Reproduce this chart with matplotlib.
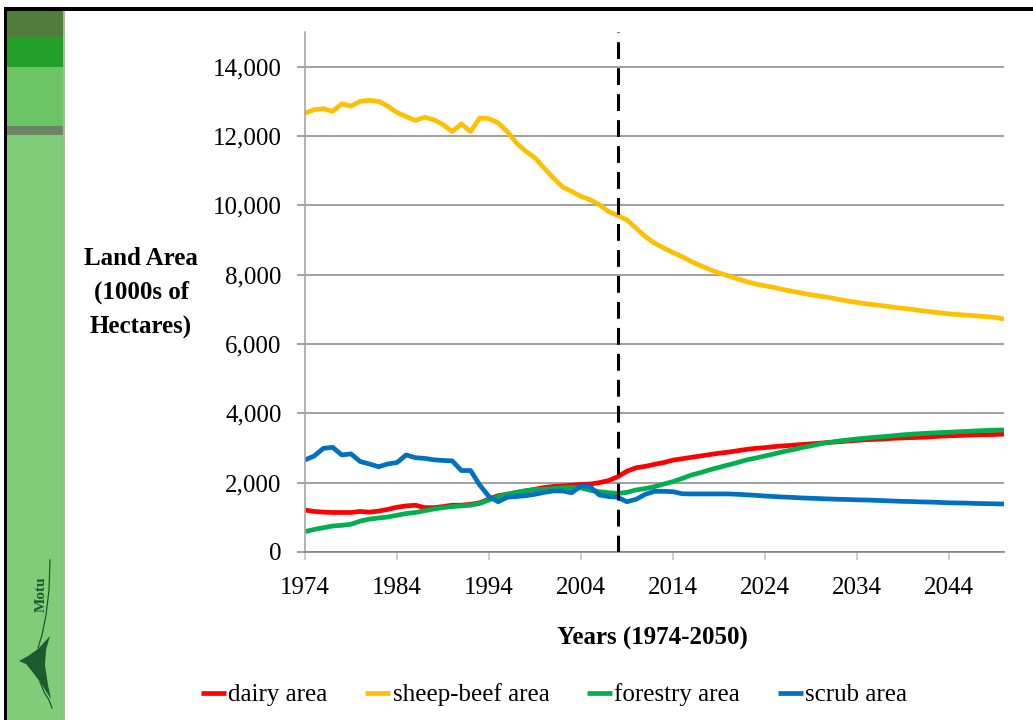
import matplotlib
matplotlib.use("Agg")
import matplotlib.pyplot as plt
from matplotlib.patches import Rectangle, Polygon
from matplotlib.ticker import FuncFormatter, FixedLocator

plt.rcParams['font.family'] = ['Liberation Serif', 'DejaVu Serif']

years = list(range(1974, 2051))

dairy = [1210, 1170, 1150, 1140, 1140, 1140, 1170, 1150, 1180, 1230,
         1290, 1330, 1350, 1280, 1280, 1310, 1350, 1350, 1375, 1420,
         1530, 1625, 1665, 1720, 1760, 1810, 1860, 1890, 1905, 1925,
         1950, 1960, 2000, 2060, 2170, 2330, 2430, 2470, 2530, 2580,
         2650, 2690, 2730, 2770, 2810, 2850, 2880, 2920, 2960, 2990,
         3010, 3040, 3060, 3080, 3100, 3120, 3140, 3160, 3180, 3200,
         3220, 3240, 3250, 3260, 3280, 3290, 3300, 3310, 3320, 3340,
         3350, 3360, 3370, 3380, 3385, 3390, 3400]

sheep_beef = [12660, 12760, 12790, 12710, 12930, 12860, 13000, 13030, 13000, 12860,
              12680, 12560, 12450, 12540, 12470, 12330, 12130, 12350, 12130, 12520,
              12500, 12380, 12130, 11800, 11560, 11370, 11075, 10790, 10530, 10400,
              10260, 10160, 10020, 9820, 9710, 9580, 9340, 9100, 8910, 8770,
              8640, 8520, 8380, 8260, 8150, 8050, 7970, 7880, 7800, 7730,
              7680, 7630, 7570, 7520, 7470, 7420, 7380, 7340, 7290, 7240,
              7200, 7160, 7130, 7100, 7060, 7030, 7000, 6960, 6930, 6900,
              6870, 6850, 6830, 6810, 6790, 6770, 6720]

forestry = [590, 650, 700, 750, 770, 800, 890, 950, 980, 1010,
            1060, 1110, 1140, 1190, 1240, 1280, 1310, 1330, 1350, 1400,
            1500, 1600, 1665, 1720, 1770, 1800, 1810, 1830, 1850, 1860,
            1850, 1780, 1740, 1710, 1690, 1720, 1790, 1830, 1885, 1960,
            2030, 2120, 2220, 2290, 2370, 2440, 2510, 2580, 2655, 2710,
            2770, 2830, 2895, 2950, 3010, 3060, 3120, 3160, 3200, 3230,
            3260, 3285, 3310, 3330, 3355, 3380, 3400, 3415, 3430, 3445,
            3455, 3470, 3480, 3495, 3505, 3515, 3520]

scrub = [2656, 2770, 2990, 3020, 2800, 2830, 2610, 2540, 2460, 2540,
         2580, 2800, 2720, 2700, 2660, 2640, 2630, 2350, 2350, 1930,
         1600, 1450, 1580, 1600, 1625, 1665, 1720, 1760, 1760, 1710,
         1905, 1885, 1645, 1600, 1580, 1450, 1520, 1665, 1750, 1750,
         1740, 1680, 1675, 1675, 1675, 1675, 1675, 1665, 1650, 1635,
         1615, 1600, 1585, 1575, 1560, 1550, 1540, 1530, 1520, 1515,
         1505, 1500, 1490, 1480, 1470, 1460, 1455, 1445, 1440, 1430,
         1420, 1415, 1410, 1400, 1395, 1390, 1385]

series_names = ["dairy area", "sheep-beef area", "forestry area", "scrub area"]
series_colors = ["#ff0000", "#ffc000", "#00b050", "#0070c0"]
y_ticks = [0, 2000, 4000, 6000, 8000, 10000, 12000, 14000]
x_ticks = [1974, 1984, 1994, 2004, 2014, 2024, 2034, 2044]
projection_start = 2008

W, H = 1033, 720
fig = plt.figure(figsize=(W / 100, H / 100), dpi=100)
fig.patch.set_facecolor("white")

# background decoration (slide side strip), in pixel coordinates
bg = fig.add_axes([0, 0, 1, 1], zorder=-5)
bg.set_xlim(0, W)
bg.set_ylim(H, 0)
bg.axis("off")
bg.add_patch(Rectangle((7, 11), 56, H - 11, color="#80cc78", lw=0))
bg.add_patch(Rectangle((7, 11), 56, 26, color="#4f7d3b", lw=0))
bg.add_patch(Rectangle((7, 37), 56, 30, color="#22a027", lw=0))
bg.add_patch(Rectangle((7, 67), 56, 59, color="#6cc464", lw=0))
bg.add_patch(Rectangle((7, 126), 56, 9, color="#6e8466", lw=0))
bg.add_patch(Rectangle((63, 11), 1.5, H - 11, color="#a8b8a0", lw=0))
bg.add_patch(Rectangle((4, 7), 3, H - 7, color="black", lw=0))
bg.add_patch(Rectangle((4, 7), W - 4, 4, color="black", lw=0))
# Motu logo
bg.add_patch(Polygon([(50, 636), (46, 650), (45, 665), (48, 685), (51, 699),
                      (40, 682), (31, 670), (26, 664), (19, 661), (28, 656),
                      (38, 649)], closed=True, color="#1e5a30", lw=0))
bg.plot([50, 49, 46, 42, 38], [560, 590, 615, 635, 648], color="#1e5a30", lw=0.9)
bg.plot([40, 44, 49, 52], [682, 692, 700, 708], color="#1e5a30", lw=0.9)
bg.text(41, 594, "Motu", rotation=90, ha="center", va="center",
        fontsize=11, fontweight="bold", color="#1e5a30")

ax = fig.add_axes([305 / W, 1 - 552 / H, (1004 - 305) / W, (552 - 32) / H])
for vals, name, col in zip([dairy, sheep_beef, forestry, scrub], series_names, series_colors):
    ax.plot(years, vals, color=col, lw=3.4, label=name, solid_capstyle="butt")

ax.axvline(projection_start, color="black", lw=2.2, dashes=(5.5, 3.0), zorder=5)

ax.set_xlim(1974, 2050)
ax.set_ylim(0, 15000)
ax.yaxis.set_major_locator(FixedLocator(y_ticks))
ax.xaxis.set_major_locator(FixedLocator(x_ticks))
ax.yaxis.set_major_formatter(FuncFormatter(lambda v, p: f"{int(v):,}"))
ax.grid(axis="y", color="#868686", lw=1.1)
ax.set_axisbelow(True)
for s in ["top", "right"]:
    ax.spines[s].set_visible(False)
ax.spines["left"].set_color("#a6a6a6")
ax.spines["bottom"].set_color("#868686")
ax.spines["left"].set_linewidth(1.2)
ax.spines["bottom"].set_linewidth(1.2)
ax.tick_params(axis="y", length=6, width=1.1, color="#868686", pad=11, labelsize=18)
ax.tick_params(axis="x", length=6, width=1.1, color="#c0c0c0", pad=12, labelsize=18)

fig.text(141 / W, 1 - 293 / H, "Land Area\n(1000s of\nHectares)", ha="center", va="center",
         fontsize=18, fontweight="bold", linespacing=1.6)
fig.text(652 / W, 1 - 638 / H, "Years (1974-2050)", ha="center", va="center",
         fontsize=18, fontweight="bold")

fig.legend(loc="center", bbox_to_anchor=(554 / W, 1 - 695 / H), ncol=4, frameon=False,
           fontsize=18, handlelength=1.0, handletextpad=0.1, columnspacing=1.5)

fig.savefig("out.png", dpi=100)
